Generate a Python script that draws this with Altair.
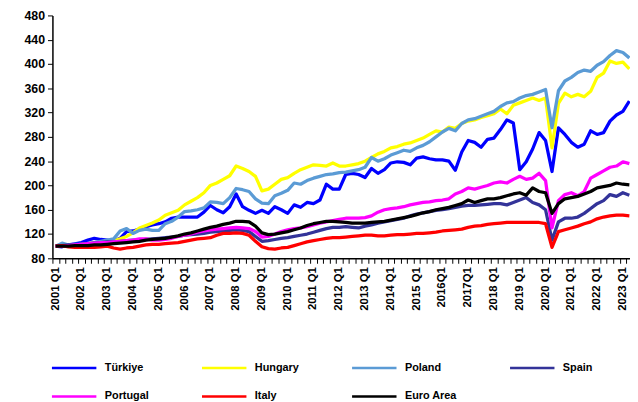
import altair as alt
import pandas as pd

# Quarter categories 2001 Q1 .. 2023 Q2
years = list(range(2001, 2024))
quarters = [f"{y} Q{q}" for y in years for q in (1, 2, 3, 4)][:90]

x_labels = ["2001 Q1", "2002 Q1", "2003 Q1", "2004 Q1", "2005 Q1", "2006 Q1",
            "2007 Q1", "2008 Q1", "2009 Q1", "2010 Q1", "2011 Q1", "2012 Q1",
            "2013 Q1", "2014 Q1", "2015 Q1", "2016Q1", "2017Q1", "2018 Q1",
            "2019 Q1", "2020 Q1", "2021 Q1", "2022 Q1", "2023 Q1"]

names = ["Türkiye", "Hungary", "Poland", "Spain", "Portugal", "Italy", "Euro Area"]
colors = ["#0000FF", "#FFFF00", "#5B9BD5", "#333399", "#FF00FF", "#FF0000", "#000000"]

turkiye = [100, 99, 102, 104, 106, 110, 113, 111, 110, 108, 113, 124,
           125, 128, 132, 135, 137, 140, 146, 148, 148, 148, 148, 156,
           167, 160, 155, 165, 186, 165, 159, 154, 159, 154, 165, 160,
           154, 168, 164, 172, 170, 176, 202, 194, 194, 218, 220, 218,
           213, 228, 220, 226, 237, 239, 238, 234, 245, 247, 244, 242,
           242, 240, 225, 255, 274, 271, 263, 276, 278, 292, 308, 303,
           226, 239, 260, 287, 274, 223, 295, 284, 271, 263, 268, 290,
           284, 287, 306, 316, 322, 339]

hungary = [100, 101, 101, 102, 103, 104, 106, 106, 108, 109, 112, 116,
           122, 130, 134, 138, 143, 151, 155, 159, 168, 174, 180, 188,
           200, 204, 210, 216, 232, 228, 223, 215, 191, 194, 202, 210,
           213, 220, 226, 230, 234, 233, 232, 237, 232, 232, 234, 236,
           240, 246, 252, 256, 262, 264, 268, 270, 274, 278, 284, 290,
           288, 296, 294, 302, 306, 308, 312, 315, 318, 326, 318, 332,
           336, 340, 344, 340, 344, 262, 335, 352, 346, 350, 346, 355,
           378, 385, 405, 401, 403, 392]

poland = [100, 105, 102, 103, 103, 104, 106, 108, 110, 112, 125, 129,
          121, 126, 128, 126, 126, 137, 141, 148, 157, 158, 160, 163,
          173, 172, 170, 180, 195, 193, 190, 178, 171, 170, 183, 187,
          192, 204, 202, 208, 212, 215, 218, 219, 221, 222, 224, 226,
          230, 246, 240, 244, 250, 254, 258, 256, 262, 266, 272, 280,
          288, 294, 290, 302, 308, 310, 314, 318, 322, 330, 336, 338,
          344, 348, 350, 354, 358, 295, 356, 372, 378, 386, 390, 388,
          398, 404, 414, 422, 419, 410]

spain = [100, 101, 102, 102, 103, 104, 105, 106, 107, 107, 108, 109,
         110, 110, 111, 112, 113, 114, 115, 116, 118, 119, 120, 121,
         123, 124, 125, 126, 127, 126, 124, 116, 108, 109, 111, 113,
         114, 116, 118, 120, 123, 126, 129, 131, 131, 132, 131, 130,
         133, 135, 138, 140, 142, 144, 146, 150, 153, 155, 157, 159,
         160, 162, 164, 166, 167, 167, 168, 169, 170, 170, 168, 172,
         176, 180, 172, 168, 160, 110, 140, 146, 146, 148, 154, 162,
         170, 175, 185, 182, 188, 184]

portugal = [100, 100, 101, 102, 103, 104, 105, 106, 106, 107, 108, 109,
            110, 112, 112, 110, 110, 111, 113, 116, 118, 120, 123, 125,
            127, 128, 129, 130, 131, 130, 129, 124, 115, 116, 120, 124,
            127, 129, 130, 132, 135, 138, 140, 142, 144, 146, 146, 146,
            147, 150, 156, 160, 162, 163, 165, 168, 170, 172, 173, 175,
            176, 178, 186, 190, 196, 194, 197, 200, 204, 206, 204, 210,
            215, 210, 212, 220, 208, 130, 175, 185, 188, 183, 190, 212,
            218, 224, 230, 232, 239, 236]

italy = [100, 101, 99, 98, 98, 98, 98, 99, 100, 97, 95, 97,
         98, 100, 102, 103, 103, 104, 105, 106, 108, 110, 112, 113,
         114, 118, 121, 121, 122, 121, 118, 108, 99, 96, 95, 97,
         98, 101, 104, 107, 109, 111, 113, 114, 114, 115, 116, 117,
         118, 118, 117, 117, 118, 119, 119, 120, 121, 121, 122, 123,
         125, 126, 127, 128, 131, 133, 134, 136, 137, 138, 139, 139,
         139, 139, 139, 139, 137, 98, 124, 127, 130, 133, 137, 140,
         145, 148, 150, 151, 151, 150]

euro_area = [100, 100, 100, 101, 101, 101, 102, 102, 103, 104, 105, 106,
             107, 108, 110, 111, 112, 113, 115, 117, 120, 122, 125, 128,
             131, 133, 136, 138, 141, 141, 140, 133, 122, 119, 120, 122,
             124, 127, 130, 134, 137, 139, 141, 141, 140, 139, 138, 138,
             138, 139, 140, 141, 143, 145, 147, 149, 152, 155, 157, 160,
             162, 164, 167, 170, 176, 172, 175, 178, 178, 180, 183, 186,
             188, 184, 196, 190, 188, 154, 170, 178, 180, 182, 186, 190,
             196, 198, 200, 204, 202, 201]

series_values = [turkiye, hungary, poland, spain, portugal, italy, euro_area]

rows = []
for name, vals in zip(names, series_values):
    for i, v in enumerate(vals):
        rows.append({"i": i, "quarter": quarters[i], "series": name, "value": v})
df = pd.DataFrame(rows)

label_df = pd.DataFrame({"i": [k * 4 for k in range(len(x_labels))], "label": x_labels})

FONT = "Liberation Sans"
W, H = 585, 246

xscale = alt.Scale(domain=[-0.5, 89.1], nice=False, zero=False)
yscale = alt.Scale(domain=[80, 480], nice=False, zero=False)

xaxis = alt.Axis(values=[k - 0.5 for k in range(90)], labels=False, ticks=True,
                 tickSize=5, tickColor="black", domainColor="black", domainWidth=1.5,
                 grid=False, title=None)
yaxis = alt.Axis(values=list(range(80, 481, 40)), labelFont=FONT, labelFontSize=12.5,
                 labelFontWeight="bold", labelColor="black", tickSize=5, tickColor="black",
                 domainColor="black", domainWidth=1.5, labelPadding=3, grid=False, title=None)

legend = alt.Legend(orient="none", legendX=-2, legendY=333, columns=4, direction="horizontal",
                    title=None, symbolType="stroke", symbolSize=2025, symbolStrokeWidth=2.5,
                    labelFont=FONT, labelFontSize=11, labelFontWeight="bold",
                    labelColor="black", labelOffset=7, columnPadding=48, rowPadding=-19)

color = alt.Color("series:N", scale=alt.Scale(domain=names, range=colors), legend=legend)

layers = []
for name in names:
    layers.append(
        alt.Chart(df)
        .transform_filter(alt.datum.series == name)
        .mark_line(strokeWidth=3.3, strokeJoin="round")
        .encode(
            x=alt.X("i:Q", scale=xscale, axis=xaxis),
            y=alt.Y("value:Q", scale=yscale, axis=yaxis),
            color=color,
        )
    )

labels = (
    alt.Chart(label_df)
    .mark_text(angle=270, align="right", baseline="middle", font=FONT,
               fontSize=11.5, fontWeight="bold", color="black")
    .encode(x=alt.X("i:Q", scale=xscale, axis=xaxis), y=alt.value(H + 9), text="label:N")
)

chart = (
    alt.layer(*layers, labels)
    .properties(width=W, height=H, autosize=alt.AutoSizeParams(type="none"),
                padding={"left": 45, "top": 5, "right": 0, "bottom": 143})
    .configure_view(stroke=None)
)

chart.save("out.html", embed_options={"renderer": "svg", "actions": False})
